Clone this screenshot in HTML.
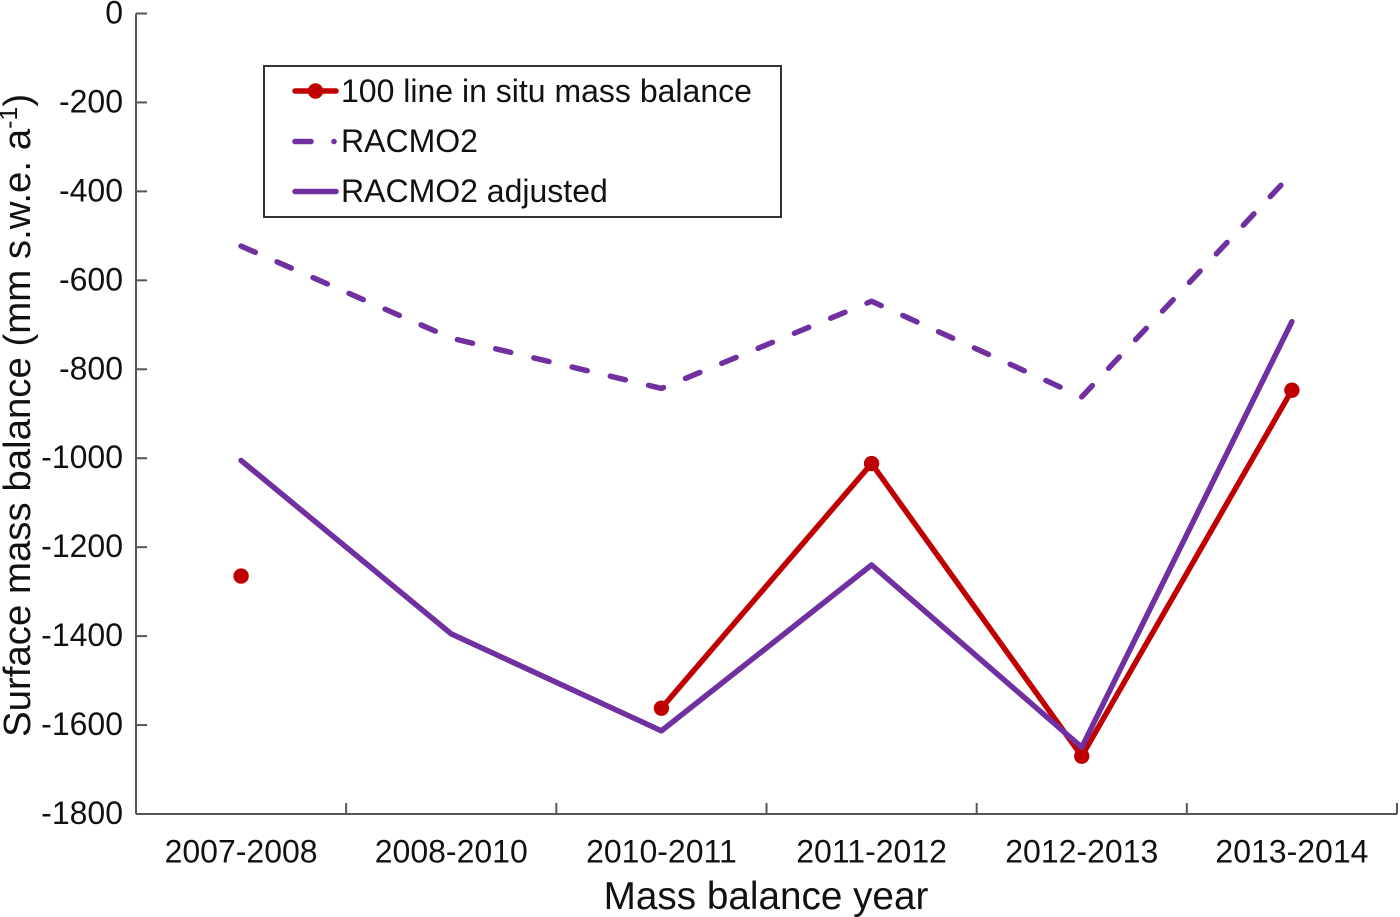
<!DOCTYPE html>
<html>
<head>
<meta charset="utf-8">
<style>
html,body{margin:0;padding:0;background:#fff;width:1400px;height:917px;overflow:hidden}
svg{display:block}
text{font-family:"Liberation Sans",Arial,sans-serif;fill:#111}
</style>
</head>
<body>
<svg id="chart" width="1400" height="917" viewBox="0 0 1400 917" xmlns="http://www.w3.org/2000/svg"></svg>
<script>
const categories = ["2007-2008","2008-2010","2010-2011","2011-2012","2012-2013","2013-2014"];
const yTicks = [0,-200,-400,-600,-800,-1000,-1200,-1400,-1600,-1800];
const insitu = [-1265,null,-1562,-1012,-1670,-847];
const racmo2 = [-523,-730,-843,-647,-862,-360];
const racmo2Adjusted = [-1005,-1395,-1613,-1240,-1650,-693];

const svg = document.getElementById('chart');
const NS = 'http://www.w3.org/2000/svg';
const x0 = 136, x1 = 1397, y0 = 13.5, y1 = 814;
const yMin = -1800, yMax = 0;
function xScale(i){ return x0 + (i + 0.5) * (x1 - x0) / categories.length; }
function xEdge(i){ return x0 + i * (x1 - x0) / categories.length; }
function yScale(v){ return y0 + (yMax - v) / (yMax - yMin) * (y1 - y0); }
function mk(tag, attrs, parent){
  const e = document.createElementNS(NS, tag);
  for (const k in attrs) e.setAttribute(k, attrs[k]);
  (parent || svg).appendChild(e);
  return e;
}
function label(str, attrs, parent){
  const t = mk('text', attrs, parent);
  t.textContent = str;
  return t;
}
const AXIS = '#555';
const RED = '#c00000';
const PURPLE = '#7030a0';

// axes
const yAxis = mk('line', {x1:x0,y1:y0,x2:x0,y2:y1,stroke:AXIS,'stroke-width':2});


const xAxis = mk('line', {x1:x0,y1:y1,x2:x1,y2:y1,stroke:AXIS,'stroke-width':2});



yTicks.forEach(function(v){
  const y = yScale(v);
  const tick = mk('line', {x1:x0,y1:y,x2:x0+11,y2:y,stroke:AXIS,'stroke-width':2});
  
  
  const t = label(String(v), {x:123,y:y+10,'text-anchor':'end','font-size':32});
  
  
});
for (let i = 1; i <= categories.length; i++){
  const x = xEdge(i);
  const tick = mk('line', {x1:x,y1:y1,x2:x,y2:y1-11,stroke:AXIS,'stroke-width':2});
  
  
}
categories.forEach(function(c, i){
  const t = label(c, {x:xScale(i),y:862.5,'text-anchor':'middle','font-size':32});
  
  
});

// axis titles
const xTitle = label('Mass balance year', {x:766,y:909,'text-anchor':'middle','font-size':38.7});


const yTitle = mk('text', {transform:'translate(30,737) rotate(-90)','font-size':38.4});


yTitle.appendChild(document.createTextNode('Surface mass balance (mm s.w.e. a'));
const sup = mk('tspan', {dy:-13,'font-size':25}, yTitle);
sup.textContent = '-1';
const close = mk('tspan', {dy:13}, yTitle);
close.textContent = ')';

// series
function segments(vals){
  const out = []; let cur = [];
  vals.forEach(function(v, i){
    if (v === null){ if (cur.length) out.push(cur); cur = []; }
    else cur.push([xScale(i), yScale(v)]);
  });
  if (cur.length) out.push(cur);
  return out;
}
function toPts(seg){ return seg.map(function(p){ return p.join(','); }).join(' '); }

segments(insitu).forEach(function(seg){
  if (seg.length > 1){
    const l = mk('polyline', {points:toPts(seg),fill:'none',stroke:RED,'stroke-width':5.5,'stroke-linecap':'round','stroke-linejoin':'round'});
    
    
  }
});
insitu.forEach(function(v, i){
  if (v === null) return;
  const c = mk('circle', {cx:xScale(i),cy:yScale(v),r:7.7,fill:RED});
  
  
});
segments(racmo2).forEach(function(seg){
  const l = mk('polyline', {points:toPts(seg),fill:'none',stroke:PURPLE,'stroke-width':5.5,'stroke-linecap':'round','stroke-linejoin':'round','stroke-dasharray':'15.5 23.8'});
  
  
});
segments(racmo2Adjusted).forEach(function(seg){
  const l = mk('polyline', {points:toPts(seg),fill:'none',stroke:PURPLE,'stroke-width':5.5,'stroke-linecap':'round','stroke-linejoin':'round'});
  
  
});

// legend
const legend = mk('g', {});


mk('rect', {x:264,y:66,width:517,height:151,fill:'#fff',stroke:'#333','stroke-width':2}, legend);
mk('line', {x1:295,y1:91,x2:336,y2:91,stroke:RED,'stroke-width':5.5,'stroke-linecap':'round'}, legend);
mk('circle', {cx:315.5,cy:91,r:7.7,fill:RED}, legend);
mk('line', {x1:295,y1:141.5,x2:311,y2:141.5,stroke:PURPLE,'stroke-width':5.5,'stroke-linecap':'round'}, legend);
mk('circle', {cx:334,cy:141.5,r:2.8,fill:PURPLE}, legend);
mk('line', {x1:295,y1:191.5,x2:336,y2:191.5,stroke:PURPLE,'stroke-width':5.5,'stroke-linecap':'round'}, legend);
const entry1 = label('100 line in situ mass balance', {x:341,y:102,'font-size':32}, legend);


const entry2 = label('RACMO2', {x:341,y:152,'font-size':32}, legend);


const entry3 = label('RACMO2 adjusted', {x:341,y:202,'font-size':32}, legend);


</script>
</body>
</html>
